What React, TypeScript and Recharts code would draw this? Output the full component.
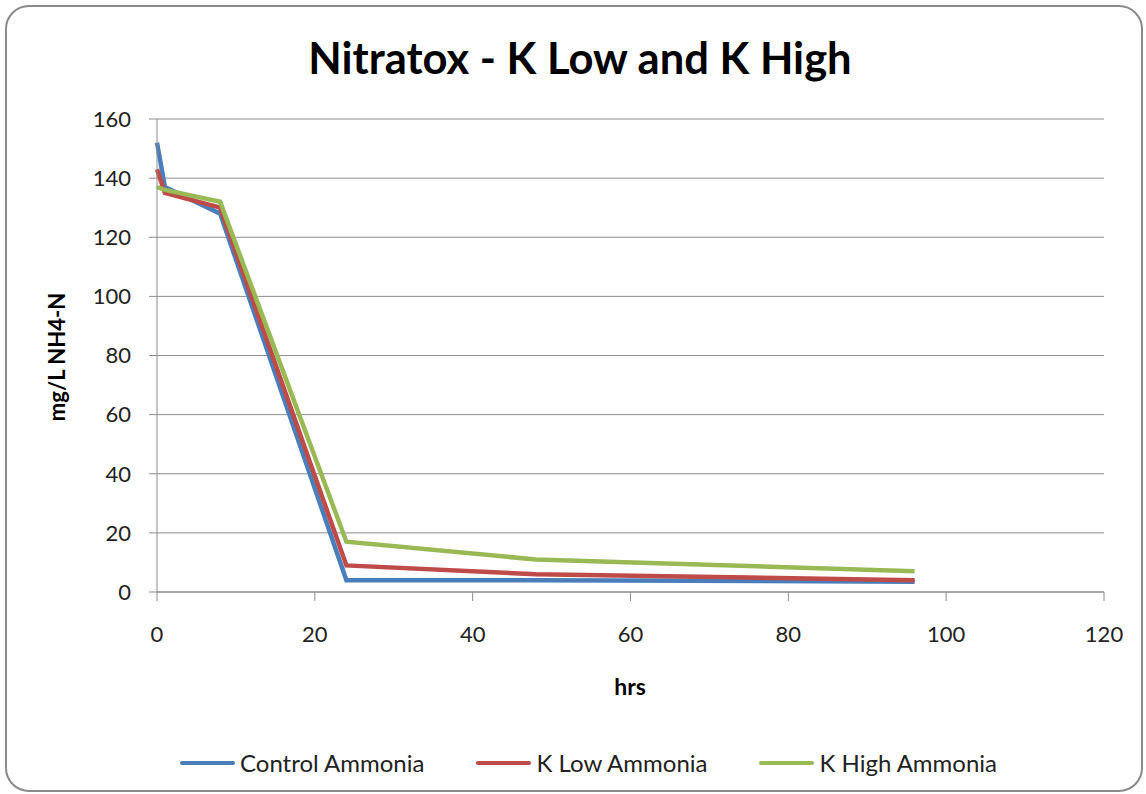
import React from "react";
import {
  LineChart,
  Line,
  XAxis,
  YAxis,
  CartesianGrid,
  Legend,
} from "recharts";

// sample times (hrs) and measured NH4-N (mg/L)
const hours = [0, 1, 8, 24, 48, 96];
const controlAmmonia = [152, 137, 128, 4, 4, 3.5];
const kLowAmmonia = [143, 135, 130, 9, 6, 4];
const kHighAmmonia = [137, 136, 132, 17, 11, 7];

const xTicks = [0, 20, 40, 60, 80, 100, 120];
const yTicks = [0, 20, 40, 60, 80, 100, 120, 140, 160];

const seriesNames = ["Control Ammonia", "K Low Ammonia", "K High Ammonia"];
const seriesColors = ["#4A7EBB", "#BE4B48", "#98B954"];

const data = hours.map((h, i) => ({
  hrs: h,
  control: controlAmmonia[i],
  kLow: kLowAmmonia[i],
  kHigh: kHighAmmonia[i],
}));

const FONT = "Lato, 'Open Sans', sans-serif";

const LegendContent = () => (
  <div
    style={{
      display: "flex",
      justifyContent: "flex-start",
      alignItems: "center",
      fontFamily: FONT,
      fontSize: 24,
      color: "#222",
      paddingLeft: 180,
    }}
  >
    {seriesNames.map((name, i) => (
      <div
        key={name}
        style={{ display: "flex", alignItems: "center", marginRight: i < 2 ? 52 : 0 }}
      >
        <span
          style={{
            display: "inline-block",
            width: 55,
            height: 4,
            background: seriesColors[i],
            marginRight: 5,
            borderRadius: 2,
          }}
        />
        <span>{name}</span>
      </div>
    ))}
  </div>
);

export default function App() {
  return (
    <div
      style={{
        position: "absolute",
        left: 0,
        top: 0,
        width: 1146,
        height: 794,
        background: "#fff",
      }}
    >
      <div
        style={{
          position: "absolute",
          left: 5,
          top: 5,
          width: 1134,
          height: 783,
          border: "2px solid #8a8a8a",
          borderRadius: 24,
        }}
      />
      <div
        style={{
          position: "absolute",
          left: 0,
          top: 31,
          width: 1160,
          textAlign: "center",
          fontFamily: FONT,
          fontWeight: 700,
          fontSize: 43.5,
          color: "#000",
        }}
      >
        Nitratox - K Low and K High
      </div>
      <div style={{ position: "absolute", left: 0, top: 0 }}>
        <LineChart
          width={1146}
          height={794}
          data={data}
          margin={{ top: 119, right: 42, bottom: 16, left: 0 }}
        >
          <CartesianGrid vertical={false} stroke="#8c8c8c" strokeWidth={1} />
          <XAxis
            dataKey="hrs"
            type="number"
            domain={[0, 120]}
            ticks={xTicks}
            height={156}
            stroke="#8c8c8c"
            tickSize={9}
            tickMargin={25}
            tick={{ fill: "#222", fontSize: 22, fontFamily: FONT }}
            label={{
              content: () => (
                <text
                  x={630}
                  y={695}
                  textAnchor="middle"
                  fontFamily={FONT}
                  fontWeight={700}
                  fontSize={23}
                  fill="#000"
                >
                  hrs
                </text>
              ),
            }}
          />
          <YAxis
            type="number"
            domain={[0, 160]}
            ticks={yTicks}
            width={157}
            stroke="#8c8c8c"
            tickSize={8}
            tickMargin={18}
            tick={{ fill: "#222", fontSize: 22, fontFamily: FONT }}
            label={{
              content: () => (
                <text
                  x={65}
                  y={357}
                  transform="rotate(-90 65 357)"
                  textAnchor="middle"
                  fontFamily={FONT}
                  fontWeight={700}
                  fontSize={22}
                  fill="#000"
                >
                  mg/L NH4-N
                </text>
              ),
            }}
          />
          <Legend
            verticalAlign="bottom"
            height={30}
            wrapperStyle={{ left: 0, width: 1146 }}
            content={<LegendContent />}
          />
          <Line
            type="linear"
            dataKey="control"
            name={seriesNames[0]}
            stroke={seriesColors[0]}
            strokeWidth={4.5}
            dot={false}
            isAnimationActive={false}
          />
          <Line
            type="linear"
            dataKey="kLow"
            name={seriesNames[1]}
            stroke={seriesColors[1]}
            strokeWidth={4.5}
            dot={false}
            isAnimationActive={false}
          />
          <Line
            type="linear"
            dataKey="kHigh"
            name={seriesNames[2]}
            stroke={seriesColors[2]}
            strokeWidth={4.5}
            dot={false}
            isAnimationActive={false}
          />
        </LineChart>
      </div>
    </div>
  );
}
